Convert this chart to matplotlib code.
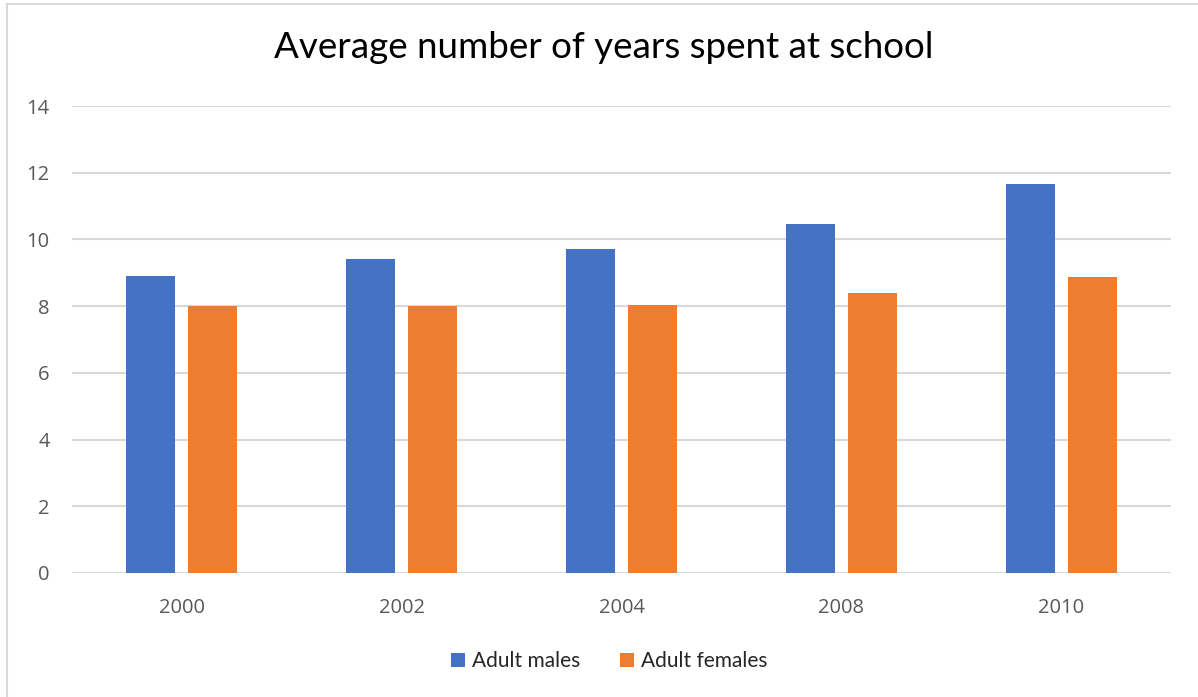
import numpy as np
import matplotlib.pyplot as plt
from matplotlib.patches import Rectangle

plt.rcParams['font.family'] = ['Lato', 'DejaVu Sans']

# Data
years = ['2000', '2002', '2004', '2008', '2010']
males = [8.9, 9.4, 9.7, 10.45, 11.65]
females = [8.0, 8.0, 8.03, 8.38, 8.88]

fig = plt.figure(figsize=(11.98, 6.97), dpi=100)
ax = fig.add_axes([72 / 1198, 1 - 573 / 697, (1171 - 72) / 1198, (573 - 106) / 697])

# light frame around the chart area
fig.patches.append(Rectangle((7 / 1198, -0.01), 1.0, 1 - 4 / 697 + 0.01,
                             transform=fig.transFigure, fill=False,
                             edgecolor='#d9d9d9', linewidth=1.5))

x = np.arange(len(years))
w = 0.223
off = 0.141
ax.bar(x - off, males, w, color='#4472c4', label='Adult males', zorder=3)
ax.bar(x + off, females, w, color='#ed7d31', label='Adult females', zorder=3)

ax.set_xlim(-0.5, len(years) - 0.5)
ax.set_ylim(0, 14)
ax.set_yticks(range(0, 15, 2))
ax.set_xticks(x)
ax.set_xticklabels(years)
ax.grid(axis='y', color='#d9d9d9', linewidth=1.5, zorder=0)
for s in ax.spines.values():
    s.set_visible(False)
ax.tick_params(length=0, labelcolor='#595959')
ax.tick_params(axis='y', pad=16)
ax.tick_params(axis='x', pad=18)
for lab in ax.get_xticklabels() + ax.get_yticklabels():
    lab.set_fontfamily(['Open Sans', 'DejaVu Sans'])
    lab.set_fontsize(14.5)

fig.text(604 / 1198, 1 - 47 / 697, 'Average number of years spent at school',
         ha='center', va='center', fontsize=26.5, color='#000000')

fig.legend(loc='center', bbox_to_anchor=(609 / 1198, 1 - 661 / 697), ncol=2,
           frameon=False, fontsize=15, handlelength=0.67, handleheight=0.67,
           columnspacing=1.9, handletextpad=0.34, labelcolor='#262626')

fig.savefig('out.png', dpi=100, facecolor='white')
